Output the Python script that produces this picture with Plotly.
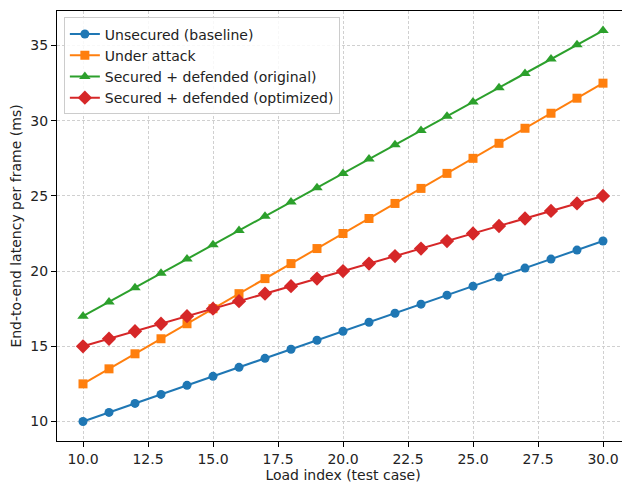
import plotly.graph_objects as go

load_index = [10, 11, 12, 13, 14, 15, 16, 17, 18, 19, 20, 21, 22, 23, 24, 25, 26, 27, 28, 29, 30]
unsecured = [10.0, 10.6, 11.2, 11.8, 12.4, 13.0, 13.6, 14.2, 14.8, 15.4, 16.0, 16.6, 17.2, 17.8, 18.4, 19.0, 19.6, 20.2, 20.8, 21.4, 22.0]
under_attack = [12.5, 13.5, 14.5, 15.5, 16.5, 17.5, 18.5, 19.5, 20.5, 21.5, 22.5, 23.5, 24.5, 25.5, 26.5, 27.5, 28.5, 29.5, 30.5, 31.5, 32.5]
secured_original = [17.0, 17.95, 18.9, 19.85, 20.8, 21.75, 22.7, 23.65, 24.6, 25.55, 26.5, 27.45, 28.4, 29.35, 30.3, 31.25, 32.2, 33.15, 34.1, 35.05, 36.0]
secured_optimized = [15.0, 15.5, 16.0, 16.5, 17.0, 17.5, 18.0, 18.5, 19.0, 19.5, 20.0, 20.5, 21.0, 21.5, 22.0, 22.5, 23.0, 23.5, 24.0, 24.5, 25.0]

series = [
    ("Unsecured (baseline)", unsecured, "#1f77b4", "circle", 9),
    ("Under attack", under_attack, "#ff7f0e", "square", 9),
    ("Secured + defended (original)", secured_original, "#2ca02c", "triangle-up", 10),
    ("Secured + defended (optimized)", secured_optimized, "#d62728", "diamond", 11),
]

fig = go.Figure()
for name, vals, color, sym, sz in series:
    fig.add_trace(go.Scatter(
        x=load_index, y=vals, name=name, mode="lines+markers",
        line=dict(color=color, width=2),
        marker=dict(symbol=sym, size=sz, color=color),
    ))

font = "DejaVu Sans, sans-serif"
fs = 14
axis_common = dict(
    showline=True, linecolor="black", linewidth=1, mirror=True,
    ticks="outside", ticklen=5, tickcolor="black", tickwidth=1,
    showgrid=True, gridcolor="#d0d0d0", griddash="3px,2px", gridwidth=1,
    zeroline=False, automargin=False,
    tickfont=dict(size=fs, color="#222", family=font),
)
fig.update_xaxes(range=[9, 31], dtick=2.5, tick0=10, tickformat=".1f",
                 title=dict(text="Load index (test case)", font=dict(size=fs, color="#222", family=font), standoff=4),
                 **axis_common)
fig.update_yaxes(range=[8.7, 37.3], dtick=5, tick0=10,
                 title=dict(text="End-to-end latency per frame (ms)", font=dict(size=fs, color="#222", family=font), standoff=12),
                 **axis_common)

fig.update_layout(
    width=622, height=481,
    margin=dict(l=49, r=1, t=3, b=48),
    plot_bgcolor="white", paper_bgcolor="white",
    font=dict(family=font, size=fs, color="#222"),
    legend=dict(x=0.012, y=0.985, xanchor="left", yanchor="top",
                bgcolor="rgba(255,255,255,0.85)", bordercolor="#cccccc", borderwidth=1,
                font=dict(size=fs, family=font, color="#222"), tracegroupgap=0,
                itemwidth=30),
    showlegend=True,
)

fig.write_html("out.html")
